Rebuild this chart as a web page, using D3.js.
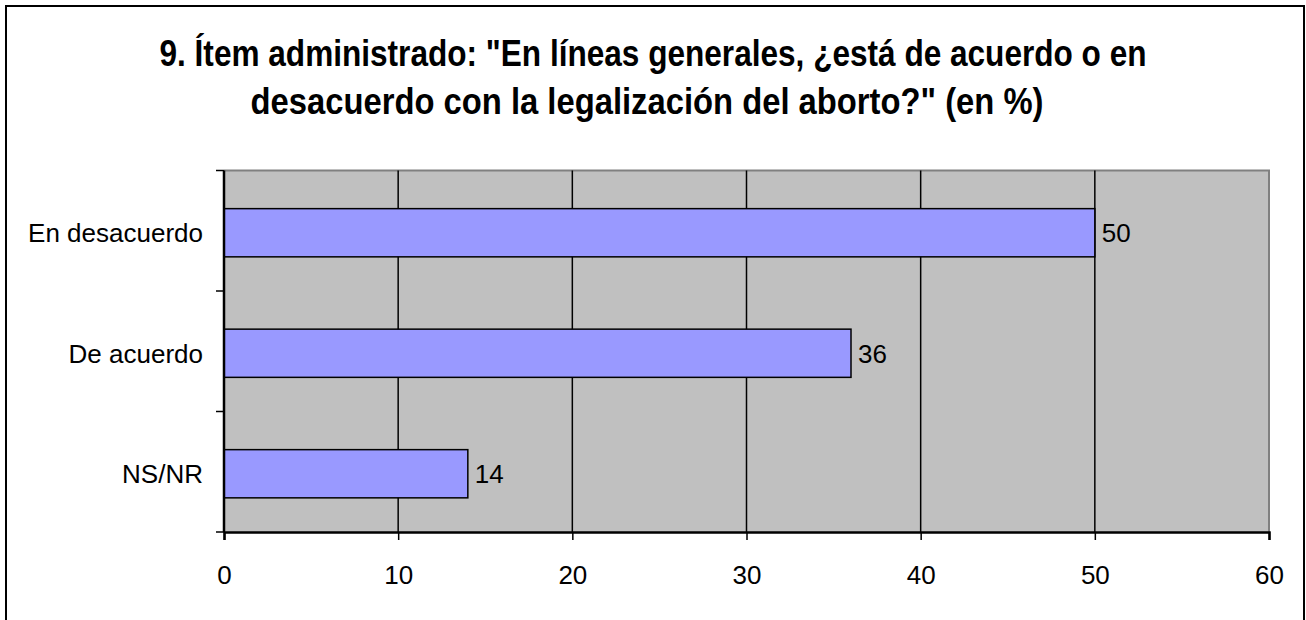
<!DOCTYPE html>
<meta charset="utf-8">
<head>
<style>
body { margin: 0; background: #fff; }
svg text { font-family: "Liberation Sans", Arial, sans-serif; fill: #000; }
</style>
</head>
<script src="https://d3js.org/d3.v7.min.js"></script>
<div id="chart"></div>
<script>
// chart values
var categories = ["En desacuerdo", "De acuerdo", "NS/NR"];
var values = [50, 36, 14];
var xTicks = [0, 10, 20, 30, 40, 50, 60];
var titleLines = [
  "9. Ítem administrado: \"En líneas generales, ¿está de acuerdo o en",
  "desacuerdo con la legalización del aborto?\" (en %)"
];

var W = 1306, H = 620;
var plot = {left: 224, right: 1269, top: 170.5, bottom: 532};

var svg = d3.select("#chart").append("svg")
  .attr("width", W).attr("height", H);

// outer frame
svg.append("rect")
  .attr("x", 6).attr("y", 6)
  .attr("width", 1298).attr("height", 640)
  .attr("fill", "#fff").attr("stroke", "#000").attr("stroke-width", 2);

// title (condensed bold)
var titleWidths = [987, 793], titleX = [653, 647], titleY = [66, 114];
svg.selectAll(".title").data(titleLines).enter().append("text")
  .attr("class", "title")
  .attr("x", function(d, i) { return titleX[i]; })
  .attr("y", function(d, i) { return titleY[i]; })
  .attr("text-anchor", "middle")
  .attr("textLength", function(d, i) { return titleWidths[i]; })
  .attr("lengthAdjust", "spacingAndGlyphs")
  .style("font-size", "36px")
  .style("font-weight", "bold")
  .text(function(d) { return d; });

var x = d3.scaleLinear().domain([0, 60]).range([plot.left, plot.right]);
var y = d3.scaleBand().domain(categories).range([plot.top, plot.bottom])
  .paddingInner(0.6).paddingOuter(0.3);

// plot background
svg.append("rect")
  .attr("x", plot.left).attr("y", plot.top)
  .attr("width", plot.right - plot.left).attr("height", plot.bottom - plot.top)
  .attr("fill", "#c0c0c0");

// top and right border in grey
svg.append("path")
  .attr("d", "M" + plot.left + "," + plot.top + "H" + plot.right + "V" + plot.bottom)
  .attr("fill", "none").attr("stroke", "#808080").attr("stroke-width", 2);

// vertical grid lines
svg.selectAll(".grid").data(xTicks.slice(1, -1)).enter().append("line")
  .attr("x1", function(d) { return x(d); }).attr("x2", function(d) { return x(d); })
  .attr("y1", plot.top).attr("y2", plot.bottom)
  .attr("stroke", "#000").attr("stroke-width", 1.5);

// bars
svg.selectAll(".bar").data(values).enter().append("rect")
  .attr("class", "bar")
  .attr("x", x(0))
  .attr("y", function(d, i) { return y(categories[i]) + 2; })
  .attr("width", function(d) { return x(d) - x(0); })
  .attr("height", y.bandwidth())
  .attr("fill", "#9999ff").attr("stroke", "#000").attr("stroke-width", 1.5);

// value labels
svg.selectAll(".val").data(values).enter().append("text")
  .attr("x", function(d) { return x(d) + 7; })
  .attr("y", function(d, i) { return y(categories[i]) + 2 + y.bandwidth() / 2; })
  .attr("dy", "0.36em")
  .style("font-size", "26px")
  .text(function(d) { return d; });

// x axis
var xAxis = svg.append("g")
  .attr("transform", "translate(0," + plot.bottom + ")")
  .call(d3.axisBottom(x).tickValues(xTicks).tickSize(8).tickPadding(26));
xAxis.select(".domain").attr("stroke-width", 2.5);
xAxis.selectAll(".tick line").attr("stroke-width", 1.5);
xAxis.selectAll(".tick text").style("font-size", "26px").style("font-family", "Liberation Sans, Arial, sans-serif");

// y axis: ticks on category boundaries, labels at band centres
var yAxis = svg.append("g");
yAxis.append("line")
  .attr("x1", plot.left).attr("x2", plot.left)
  .attr("y1", plot.top).attr("y2", plot.bottom)
  .attr("stroke", "#000").attr("stroke-width", 2.5);
yAxis.selectAll(".yt").data([0, 1, 2, 3]).enter().append("line")
  .attr("x1", plot.left - 8).attr("x2", plot.left)
  .attr("y1", function(i) { return plot.top + i * y.step(); })
  .attr("y2", function(i) { return plot.top + i * y.step(); })
  .attr("stroke", "#000").attr("stroke-width", 1.5);
yAxis.selectAll(".lab").data(categories).enter().append("text")
  .attr("x", 203)
  .attr("y", function(d) { return y(d) + 2 + y.bandwidth() / 2; })
  .attr("dy", "0.36em")
  .attr("text-anchor", "end")
  .style("font-size", "26px")
  .text(function(d) { return d; });
</script>
